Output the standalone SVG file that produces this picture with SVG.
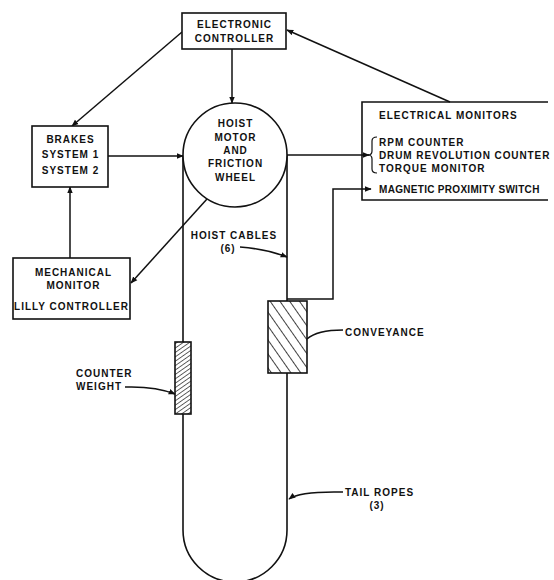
<svg xmlns="http://www.w3.org/2000/svg" width="554" height="580" viewBox="0 0 554 580">
<defs>
<marker id="ah" viewBox="0 0 10 10" refX="9" refY="5" markerWidth="7" markerHeight="7" orient="auto" markerUnits="userSpaceOnUse">
<path d="M0,1 L10,5 L0,9 z" fill="#111"/>
</marker>
<pattern id="hatchConv" width="8" height="8" patternUnits="userSpaceOnUse" patternTransform="rotate(-35)">
<line x1="0" y1="0" x2="0" y2="8" stroke="#111" stroke-width="1.6"/>
</pattern>
<pattern id="hatchCw" width="3.6" height="3.6" patternUnits="userSpaceOnUse" patternTransform="rotate(55)">
<line x1="0" y1="0" x2="0" y2="3.6" stroke="#111" stroke-width="1.3"/>
</pattern>
</defs>
<style>
.t{font-family:"Liberation Sans",Arial,sans-serif;font-weight:bold;font-size:10px;letter-spacing:1px;fill:#111}
.m{text-anchor:middle}
.box{fill:#fff;stroke:#111;stroke-width:1.6}
.ln{fill:none;stroke:#111;stroke-width:1.6}
.ar{fill:none;stroke:#111;stroke-width:1.5;marker-end:url(#ah)}
</style>
<rect width="554" height="580" fill="#fff"/>

<g id="ropes">
<path class="ln" d="M183,155 V342"/>
<path class="ln" d="M183,414 V530 A52,52 0 0 0 287,530 V373"/>
<path class="ln" d="M287,155 V301"/>
</g>

<g id="connectors">
<line class="ar" x1="232" y1="49" x2="232" y2="103"/>
<line class="ar" x1="182" y1="32" x2="72" y2="126"/>
<line class="ar" x1="450" y1="102" x2="287" y2="30"/>
<line class="ar" x1="108" y1="156" x2="183" y2="156"/>
<line class="ar" x1="70" y1="258" x2="70" y2="187"/>
<line class="ar" x1="207" y1="199" x2="131" y2="283"/>
<line class="ar" x1="287" y1="155" x2="369" y2="155"/>
<path class="ar" d="M287,299 H333 V189 H371"/>
<path class="ar" d="M240,247 Q266,249 287,257"/>
<path class="ar" d="M125,387 Q155,386 175,394"/>
<path class="ln" d="M343,330 Q317,330 307,339"/>
<path class="ar" d="M343,492 Q300,491 289,499"/>
</g>

<g id="electronic-controller">
<rect class="box" x="182" y="13" width="104" height="36"/>
<text class="t m" x="234.5" y="28">ELECTRONIC</text>
<text class="t m" x="234.5" y="42">CONTROLLER</text>
</g>

<g id="hoist-motor">
<circle class="box" cx="235" cy="155" r="52"/>
<text class="t m" x="235.5" y="127">HOIST</text>
<text class="t m" x="235.5" y="141">MOTOR</text>
<text class="t m" x="235.5" y="154">AND</text>
<text class="t m" x="235.5" y="167">FRICTION</text>
<text class="t m" x="235.5" y="181">WHEEL</text>
</g>

<g id="brakes">
<rect class="box" x="32" y="126" width="76" height="61"/>
<text class="t m" x="70.5" y="143">BRAKES</text>
<text class="t m" x="70.5" y="158">SYSTEM 1</text>
<text class="t m" x="70.5" y="174">SYSTEM 2</text>
</g>

<g id="mechanical-monitor">
<rect class="box" x="13" y="258" width="117" height="61"/>
<text class="t m" x="73.5" y="276">MECHANICAL</text>
<text class="t m" x="73.5" y="289">MONITOR</text>
<text class="t m" x="71.5" y="310">LILLY CONTROLLER</text>
</g>

<g id="electrical-monitors">
<path class="ln" d="M548,102 H362 V200 H548"/>
<text class="t" x="379" y="119">ELECTRICAL MONITORS</text>
<path class="ln" style="stroke-width:1.2" d="M377,137 Q372,137 372,141 V151 Q372,155 368,155 Q372,155 372,159 V169 Q372,173 377,173"/>
<text class="t" x="379" y="146">RPM COUNTER</text>
<text class="t" x="379" y="159" style="letter-spacing:0.9px">DRUM REVOLUTION COUNTER</text>
<text class="t" x="379" y="172">TORQUE MONITOR</text>
<text class="t" x="379" y="193" style="letter-spacing:0.3px">MAGNETIC PROXIMITY SWITCH</text>
</g>

<g id="hoist-cables-label">
<text class="t m" x="234" y="239">HOIST CABLES</text>
<text class="t m" x="228" y="252">(6)</text>
</g>

<g id="counterweight">
<rect x="175" y="342" width="16" height="72" fill="url(#hatchCw)" stroke="#111" stroke-width="1.6"/>
<text class="t" x="76" y="377">COUNTER</text>
<text class="t" x="76" y="390">WEIGHT</text>
</g>

<g id="conveyance">
<rect x="268" y="301" width="39" height="72" fill="url(#hatchConv)" stroke="#111" stroke-width="1.6"/>
<text class="t" x="345" y="336">CONVEYANCE</text>
</g>

<g id="tail-ropes-label">
<text class="t" x="345" y="496">TAIL ROPES</text>
<text class="t m" x="377" y="509">(3)</text>
</g>
</svg>
